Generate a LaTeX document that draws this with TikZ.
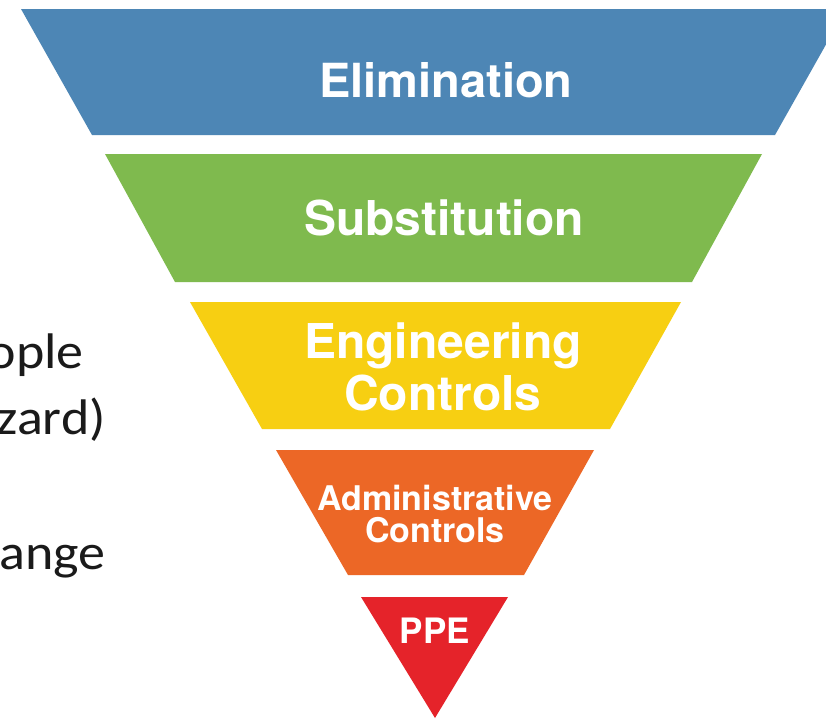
\documentclass[tikz,border=0pt]{standalone}
\usepackage{fontspec}
\usepackage{graphicx}
\setmainfont{Carlito}
\newfontfamily\labfont{TeX Gyre Heros}
\definecolor{cblue}{HTML}{4D86B5}
\definecolor{cgreen}{HTML}{7FBA4E}
\definecolor{cyellow}{HTML}{F7CF12}
\definecolor{corange}{HTML}{EC6726}
\definecolor{cred}{HTML}{E5232A}
\definecolor{ctext}{HTML}{1A1A1A}
\tikzset{
  band/.style={draw=none},
  lab/.style={text=white, inner sep=0pt, anchor=base, align=center, font=\labfont\bfseries},
  side/.style={text=ctext, inner sep=0pt, anchor=base east, font=\fontsize{50}{50}\selectfont}
}
\newcommand{\sidetext}[1]{\scalebox{1.08}[1]{#1}}
\begin{document}
\begin{tikzpicture}[x=1pt,y=-1pt]
\useasboundingbox (0,0) rectangle (826,720);
\clip (0,0) rectangle (826,720);
\fill[white] (0,0) rectangle (826,720);
% bands
\fill[band,cblue]   (21,9) -- (846,9) -- (775,135) -- (92,135) -- cycle;
\fill[band,cgreen]  (105,154) -- (762,154) -- (692,282) -- (175,282) -- cycle;
\fill[band,cyellow] (190,302) -- (681,302) -- (610,429) -- (262,429) -- cycle;
\fill[band,corange] (276,450) -- (594,450) -- (524,575) -- (348,575) -- cycle;
\fill[band,cred]    (361,597) -- (508,597) -- (435,718) -- cycle;
% labels
\node[lab, font=\labfont\bfseries\fontsize{47}{47}\selectfont] (elim) at (446,97) {Elimination};
\node[lab, font=\labfont\bfseries\fontsize{48}{48}\selectfont] (subs) at (444,235) {Substitution};
\node[lab, font=\labfont\bfseries\fontsize{48}{52}\selectfont] (eng) at (443,410) {Engineering\\Controls};
\node[lab, font=\labfont\bfseries\fontsize{34}{32}\selectfont] (adm) at (435,542) {Administrative\\Controls};
\node[lab, font=\labfont\bfseries\fontsize{35}{35}\selectfont] (ppe) at (435,643) {PPE};
% cut-off side text
\node[side] (t1) at (84,368) {\sidetext{ople}};
\node[side] (t2) at (106,434) {\sidetext{zard)}};
\node[side] (t3) at (106,569) {\sidetext{ange}};
\end{tikzpicture}
\end{document}
